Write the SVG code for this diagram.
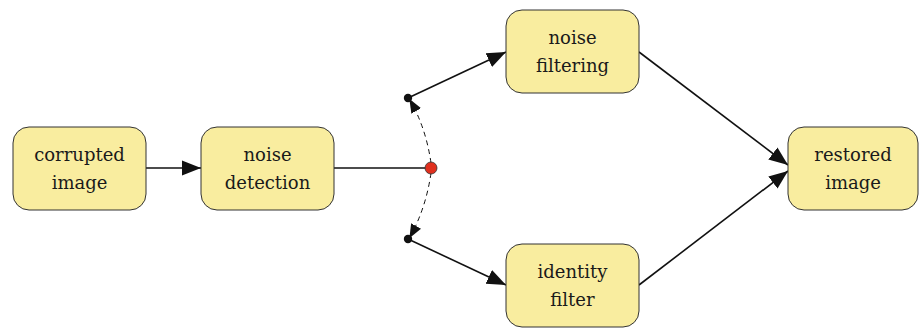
<svg xmlns="http://www.w3.org/2000/svg" width="919" height="328" viewBox="0 0 919 328">
<style>
.node rect{fill:#f9ed9f;stroke:#333;stroke-width:1}
.node text{font-family:"DejaVu Serif",serif;font-size:18px;fill:#1a1a1a;text-anchor:middle}
.edge{stroke:#111;stroke-width:1.6;fill:none}
.dash{stroke:#111;stroke-width:1;fill:none;stroke-dasharray:5,4}
</style>
<defs>
<marker id="ah" viewBox="0 0 10 10" refX="9" refY="5" markerWidth="14" markerHeight="14" markerUnits="userSpaceOnUse" orient="auto">
<path d="M0,1 L10,5 L0,9 z" fill="#111"/>
</marker>
<marker id="ahb" viewBox="0 0 10 10" refX="10" refY="5" markerWidth="19" markerHeight="19" markerUnits="userSpaceOnUse" orient="auto">
<path d="M0,1 L10,5 L0,9 z" fill="#111"/>
</marker>
</defs>
<g id="connectors">
<line class="edge" x1="146" y1="168" x2="201" y2="168" marker-end="url(#ahb)"/>
<line class="edge" x1="334" y1="168" x2="426" y2="168"/>
<path class="dash" d="M431,163 Q426,128 410,100" marker-end="url(#ah)"/>
<path class="dash" d="M431,173 Q426,208 410,237" marker-end="url(#ah)"/>
<line class="edge" x1="408" y1="98" x2="506" y2="52" marker-end="url(#ahb)"/>
<line class="edge" x1="408" y1="239" x2="506" y2="285" marker-end="url(#ahb)"/>
<line class="edge" x1="639" y1="52" x2="788" y2="165" marker-end="url(#ahb)"/>
<line class="edge" x1="639" y1="285" x2="788" y2="171" marker-end="url(#ahb)"/>
<circle cx="408" cy="98" r="4.2" fill="#111"/>
<circle cx="408" cy="239" r="4.2" fill="#111"/>
<circle cx="431" cy="168" r="6" fill="#e0301e" stroke="#333" stroke-width="0.8"/>
</g>
<g id="corrupted" class="node">
<rect x="13" y="127" width="133" height="83" rx="16"/>
<text x="79.5" y="161">corrupted</text>
<text x="79.5" y="189">image</text>
</g>
<g id="detection" class="node">
<rect x="201" y="127" width="133" height="83" rx="16"/>
<text x="267.5" y="161">noise</text>
<text x="267.5" y="189">detection</text>
</g>
<g id="filtering" class="node">
<rect x="506" y="10" width="133" height="83" rx="16"/>
<text x="572.5" y="44">noise</text>
<text x="572.5" y="72">filtering</text>
</g>
<g id="identity" class="node">
<rect x="506" y="244" width="133" height="83" rx="16"/>
<text x="572.5" y="278">identity</text>
<text x="572.5" y="306">filter</text>
</g>
<g id="restored" class="node">
<rect x="788" y="127" width="130" height="83" rx="16"/>
<text x="853" y="161">restored</text>
<text x="853" y="189">image</text>
</g>
</svg>
